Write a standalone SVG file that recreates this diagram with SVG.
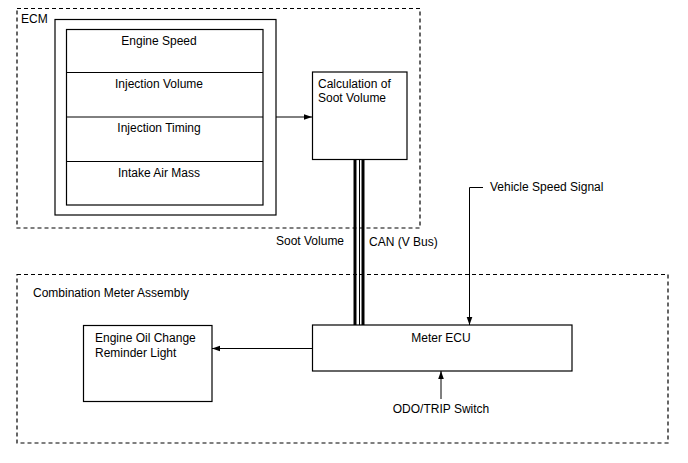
<svg xmlns="http://www.w3.org/2000/svg" width="688" height="463" viewBox="0 0 688 463">
<defs>
<style>
text{font-family:"Liberation Sans",Arial,sans-serif;font-size:12px;fill:#000}
.c{text-anchor:middle}
.dash{fill:none;stroke:#000;stroke-width:1.2;stroke-dasharray:4 3}
.box{fill:#fff;stroke:#000;stroke-width:1.2}
.ln{fill:none;stroke:#000;stroke-width:1}
</style>
<marker id="ah" viewBox="0 0 10 10" refX="10" refY="5" markerWidth="10" markerHeight="8" markerUnits="userSpaceOnUse" orient="auto">
<path d="M0,1.5 L10,5 L0,8.5 Z" fill="#000"/>
</marker>
</defs>
<rect width="688" height="463" fill="#fff"/>
<g id="ecm">
<rect class="dash" x="17" y="8.5" width="403" height="219.5"/>
<text x="21" y="23">ECM</text>
</g>
<g id="combination-meter">
<rect class="dash" x="17" y="274.5" width="651" height="168.5"/>
<text x="33" y="297">Combination Meter Assembly</text>
</g>
<g id="inputs">
<rect class="box" x="55" y="19.5" width="221" height="195.5" stroke-width="2"/>
<rect class="box" x="66.5" y="29.5" width="196.5" height="175.5"/>
<line class="ln" x1="66.5" y1="72.5" x2="263" y2="72.5" stroke-width="1.2"/>
<line class="ln" x1="66.5" y1="117" x2="263" y2="117" stroke-width="1.2"/>
<line class="ln" x1="66.5" y1="161.5" x2="263" y2="161.5" stroke-width="1.2"/>
<text class="c" x="159" y="45">Engine Speed</text>
<text class="c" x="159" y="88">Injection Volume</text>
<text class="c" x="159" y="132">Injection Timing</text>
<text class="c" x="159" y="177">Intake Air Mass</text>
</g>
<g id="calc">
<rect class="box" x="312.5" y="72" width="94.5" height="87.5"/>
<text x="318" y="88">Calculation of</text>
<text x="318" y="102">Soot Volume</text>
</g>
<g id="meter-ecu">
<rect class="box" x="312.5" y="325" width="259.5" height="46"/>
<text class="c" x="441" y="342">Meter ECU</text>
</g>
<g id="reminder-light">
<rect class="box" x="83.5" y="325.5" width="128.5" height="76"/>
<text x="95" y="342">Engine Oil Change</text>
<text x="95" y="357">Reminder Light</text>
</g>
<g id="labels">
<text x="276" y="245">Soot Volume</text>
<text x="369" y="246">CAN (V Bus)</text>
<text x="490" y="191">Vehicle Speed Signal</text>
<text class="c" x="441" y="413">ODO/TRIP Switch</text>
</g>
<g id="connectors">
<line class="ln" x1="276" y1="117" x2="312" y2="117" marker-end="url(#ah)"/>
<line x1="355" y1="159.5" x2="355" y2="325" stroke="#000" stroke-width="3"/>
<line x1="359.5" y1="159.5" x2="359.5" y2="325" stroke="#000" stroke-width="1"/>
<line x1="363" y1="159.5" x2="363" y2="325" stroke="#000" stroke-width="3"/>
<polyline class="ln" points="483,187.5 469.5,187.5 469.5,325" marker-end="url(#ah)"/>
<line class="ln" x1="312" y1="348.5" x2="212" y2="348.5" marker-end="url(#ah)"/>
<line class="ln" x1="441" y1="399" x2="441" y2="371" marker-end="url(#ah)"/>
</g>
</svg>
